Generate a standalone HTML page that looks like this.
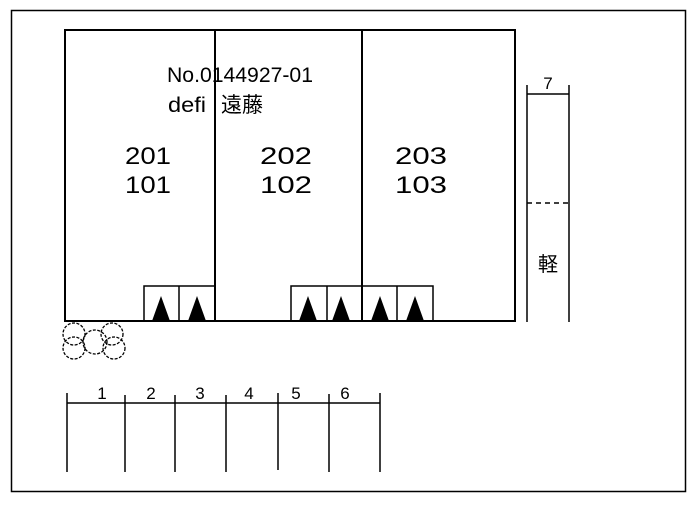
<!DOCTYPE html>
<html><head><meta charset="utf-8"><style>html,body{margin:0;padding:0;background:#fff}</style></head>
<body>
<svg width="700" height="506" viewBox="0 0 700 506" xmlns="http://www.w3.org/2000/svg" font-family="'Liberation Sans','Noto Sans CJK JP',sans-serif">
<rect x="11.5" y="10.5" width="674" height="481" fill="none" stroke="#000" stroke-width="1.5"/>
<g stroke="#000" stroke-width="2" fill="none">
<rect x="65" y="30" width="450" height="291"/>
<line x1="215" y1="30" x2="215" y2="321"/>
<line x1="362" y1="30" x2="362" y2="321"/>
</g>
<g stroke="#000" stroke-width="1.5" fill="none">
<polyline points="144,321 144,286 215,286"/><line x1="179" y1="286" x2="179" y2="321"/>
<polyline points="291,321 291,286 433,286 433,321"/>
<line x1="327" y1="286" x2="327" y2="321"/><line x1="397" y1="286" x2="397" y2="321"/>
</g>
<g fill="#000">
<polygon points="161,296 152,321 170,321"/>
<polygon points="197,296 188,321 206,321"/>
<polygon points="308,296 299,321 317,321"/>
<polygon points="341,296 332,321 350,321"/>
<polygon points="380,296 371,321 389,321"/>
<polygon points="415,296 406,321 424,321"/>
</g>
<g font-size="21" fill="#000">
<text x="167" y="82" textLength="146" lengthAdjust="spacingAndGlyphs">No.0144927-01</text>
<text x="168" y="112" textLength="38" lengthAdjust="spacingAndGlyphs">defi</text>
<text x="221" y="112" font-size="21">遠藤</text>
</g>
<g font-size="24" fill="#000" text-anchor="middle">
<text x="148" y="164" textLength="46" lengthAdjust="spacingAndGlyphs">201</text><text x="148" y="193" textLength="46" lengthAdjust="spacingAndGlyphs">101</text>
<text x="286" y="164" textLength="52" lengthAdjust="spacingAndGlyphs">202</text><text x="286" y="193" textLength="52" lengthAdjust="spacingAndGlyphs">102</text>
<text x="421" y="164" textLength="52" lengthAdjust="spacingAndGlyphs">203</text><text x="421" y="193" textLength="52" lengthAdjust="spacingAndGlyphs">103</text>
</g>
<g stroke="#000" stroke-width="1.5" fill="none">
<line x1="527" y1="85" x2="527" y2="322"/>
<line x1="569" y1="85" x2="569" y2="322"/>
<line x1="527" y1="94" x2="569" y2="94"/>
<line x1="527" y1="203" x2="569" y2="203" stroke-dasharray="5,4"/>
</g>
<text x="548" y="89" font-size="17" text-anchor="middle">7</text>
<text x="548" y="271" font-size="20" text-anchor="middle">軽</text>
<g stroke="#000" stroke-width="1.3" fill="none" stroke-dasharray="3,1.5">
<circle cx="74" cy="334" r="11"/><circle cx="74" cy="348" r="11"/>
<circle cx="95" cy="342" r="12"/>
<circle cx="112" cy="334" r="11"/><circle cx="114" cy="348" r="11"/>
</g>
<g stroke="#000" stroke-width="1.5">
<line x1="67" y1="403" x2="380" y2="403"/>
<line x1="67" y1="393" x2="67" y2="472"/>
<line x1="125" y1="395" x2="125" y2="472"/>
<line x1="175" y1="395" x2="175" y2="472"/>
<line x1="226" y1="395" x2="226" y2="472"/>
<line x1="278" y1="393" x2="278" y2="470"/>
<line x1="329" y1="394" x2="329" y2="472"/>
<line x1="380" y1="393" x2="380" y2="472"/>
</g>
<g font-size="17" text-anchor="middle">
<text x="102" y="399">1</text><text x="151" y="399">2</text><text x="200" y="399">3</text>
<text x="249" y="399">4</text><text x="296" y="399">5</text><text x="345" y="399">6</text>
</g>
</svg>
</body></html>
